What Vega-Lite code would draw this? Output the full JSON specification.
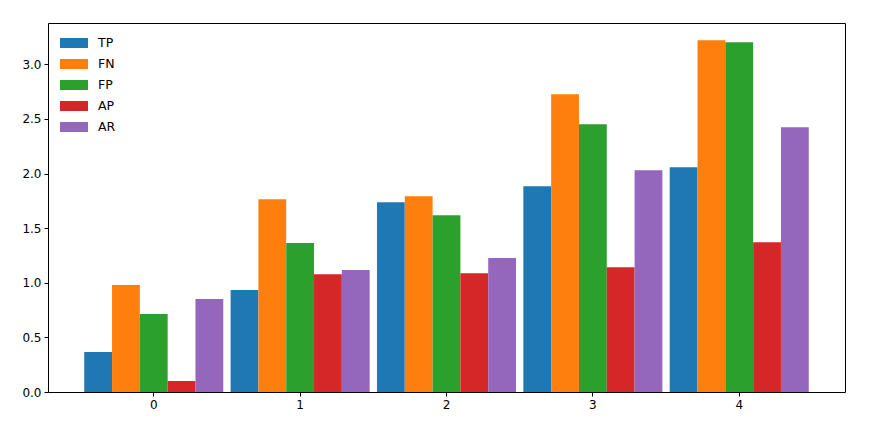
{
  "$schema": "https://vega.github.io/schema/vega-lite/v6.json",
  "width": 797,
  "height": 369,
  "autosize": {"type": "none"},
  "padding": {"left": 48, "top": 23, "right": 33, "bottom": 35},
  "background": "white",
  "config": {
    "view": {"stroke": "black", "strokeWidth": 1},
    "font": "DejaVu Sans",
    "axis": {
      "grid": false,
      "domain": false,
      "tickColor": "black",
      "tickSize": 4,
      "tickWidth": 1,
      "labelColor": "black",
      "labelFont": "DejaVu Sans",
      "labelFontSize": 12,
      "title": null
    }
  },
  "data": {
    "values": [
      {"g": "0", "s": "TP", "v": 0.366}, {"g": "0", "s": "FN", "v": 0.979}, {"g": "0", "s": "FP", "v": 0.713}, {"g": "0", "s": "AP", "v": 0.10}, {"g": "0", "s": "AR", "v": 0.851},
      {"g": "1", "s": "TP", "v": 0.933}, {"g": "1", "s": "FN", "v": 1.765}, {"g": "1", "s": "FP", "v": 1.363}, {"g": "1", "s": "AP", "v": 1.079}, {"g": "1", "s": "AR", "v": 1.116},
      {"g": "2", "s": "TP", "v": 1.738}, {"g": "2", "s": "FN", "v": 1.793}, {"g": "2", "s": "FP", "v": 1.619}, {"g": "2", "s": "AP", "v": 1.088}, {"g": "2", "s": "AR", "v": 1.226},
      {"g": "3", "s": "TP", "v": 1.884}, {"g": "3", "s": "FN", "v": 2.726}, {"g": "3", "s": "FP", "v": 2.451}, {"g": "3", "s": "AP", "v": 1.143}, {"g": "3", "s": "AR", "v": 2.031},
      {"g": "4", "s": "TP", "v": 2.058}, {"g": "4", "s": "FN", "v": 3.22}, {"g": "4", "s": "FP", "v": 3.201}, {"g": "4", "s": "AP", "v": 1.372}, {"g": "4", "s": "AR", "v": 2.424}
    ]
  },
  "mark": {"type": "bar", "cornerRadius": 0},
  "encoding": {
    "x": {
      "field": "g",
      "type": "ordinal",
      "sort": ["0", "1", "2", "3", "4"],
      "scale": {"paddingInner": 0.05, "paddingOuter": 0.2475},
      "axis": {"labelAngle": 0, "labelPadding": 3}
    },
    "xOffset": {
      "field": "s",
      "type": "nominal",
      "sort": ["TP", "FN", "FP", "AP", "AR"],
      "scale": {"paddingInner": 0, "paddingOuter": 0}
    },
    "y": {
      "field": "v",
      "type": "quantitative",
      "scale": {"domain": [0, 3.378], "nice": false, "zero": true},
      "axis": {"values": [0, 0.5, 1, 1.5, 2, 2.5, 3], "format": ".1f", "labelPadding": 3}
    },
    "color": {
      "field": "s",
      "type": "nominal",
      "sort": ["TP", "FN", "FP", "AP", "AR"],
      "scale": {"domain": ["TP", "FN", "FP", "AP", "AR"], "range": ["#1f77b4", "#ff7f0e", "#2ca02c", "#d62728", "#9467bd"]},
      "legend": {
        "title": null,
        "orient": "none",
        "legendX": 12,
        "legendY": 6,
        "symbolType": "M-1,-0.357H1V0.357H-1Z",
        "symbolSize": 784,
        "symbolStrokeWidth": 0,
        "labelFont": "DejaVu Sans",
        "labelFontSize": 12.5,
        "labelColor": "black",
        "labelOffset": 10,
        "rowPadding": -6.5,
        "padding": 0
      }
    }
  }
}
